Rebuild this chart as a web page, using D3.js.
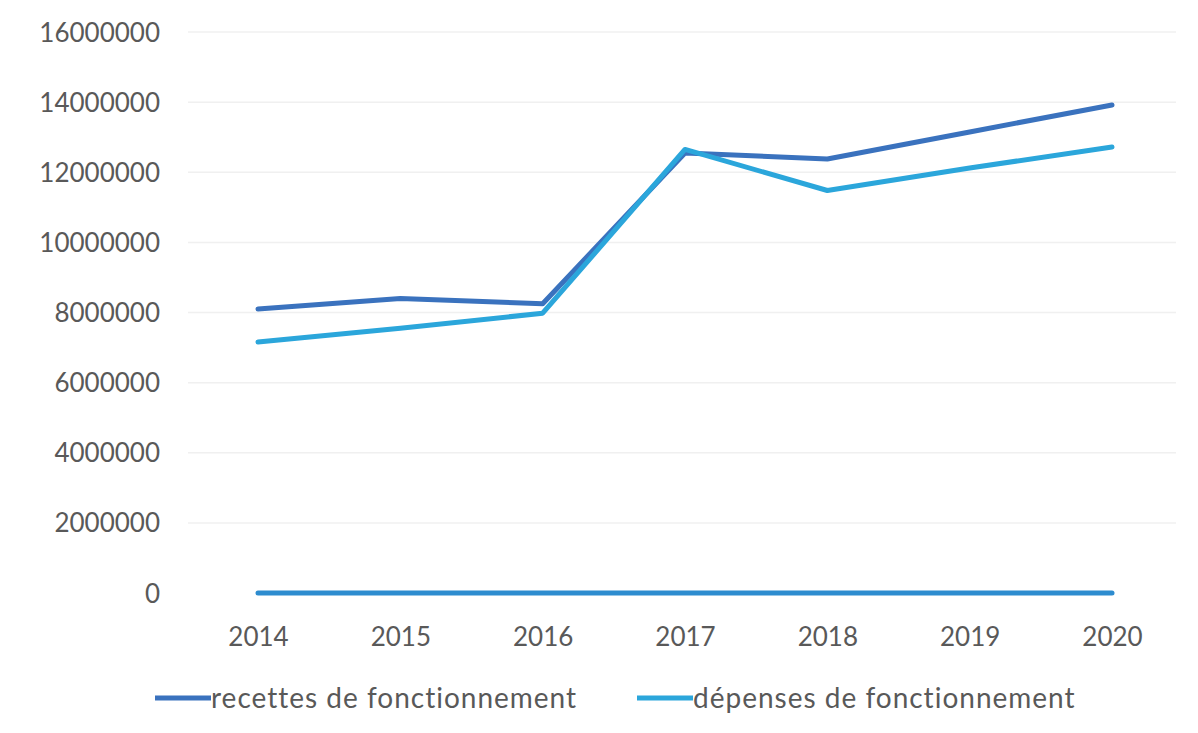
<!DOCTYPE html>
<html><head><meta charset="utf-8">
<script src="https://cdn.jsdelivr.net/npm/d3@7"></script>
<style>body{margin:0;background:#fff}svg text{font-family:Lato,"Open Sans",sans-serif;fill:#595959}</style>
</head><body><svg id="c" width="1198" height="733"></svg>
<script>
const years = ["2014","2015","2016","2017","2018","2019","2020"];
const recettes = [8100000, 8400000, 8250000, 12550000, 12380000, 13150000, 13920000];
const depenses = [7160000, 7550000, 7980000, 12650000, 11480000, 12120000, 12720000];
const zeroSeries = [0, 0, 0, 0, 0, 0, 0];
const yTicks = [0, 2000000, 4000000, 6000000, 8000000, 10000000, 12000000, 14000000, 16000000];
const seriesNames = ["recettes de fonctionnement", "dépenses de fonctionnement"];

const svg = d3.select("#c");
const x = d3.scalePoint().domain(years).range([258, 1112]);
const y = d3.scaleLinear().domain([0, 16000000]).range([593, 32]);

// gridlines
svg.append("g").selectAll("line").data(yTicks.slice(1)).join("line")
  .attr("x1", 188).attr("x2", 1176)
  .attr("y1", d => y(d)).attr("y2", d => y(d))
  .attr("stroke", "#f0f0f0").attr("stroke-width", 1.5);

// y axis labels
const ya = svg.append("g").attr("transform", "translate(160,0)")
  .call(d3.axisLeft(y).tickValues(yTicks).tickSize(0).tickPadding(0).tickFormat(d3.format("d")));
ya.select(".domain").remove();
ya.selectAll("text").attr("font-size", 26).attr("dy", "0.35em").style("fill", "#595959");

// x axis labels
const xa = svg.append("g").attr("transform", "translate(0,637)")
  .call(d3.axisBottom(x).tickSize(0).tickPadding(0));
xa.select(".domain").remove();
xa.selectAll("text").attr("font-size", 26).attr("dy", "0.35em").attr("y", 0).style("fill", "#595959");

const line = d3.line().x((d, i) => x(years[i])).y(d => y(d));

svg.append("path").datum(zeroSeries).attr("d", line)
  .attr("fill", "none").attr("stroke", "#2d8ccf").attr("stroke-width", 5).attr("stroke-linecap", "round");
svg.append("path").datum(recettes).attr("d", line)
  .attr("fill", "none").attr("stroke", "#3a72be").attr("stroke-width", 5).attr("stroke-linejoin", "round").attr("stroke-linecap", "round");
svg.append("path").datum(depenses).attr("d", line)
  .attr("fill", "none").attr("stroke", "#2ba6db").attr("stroke-width", 5).attr("stroke-linejoin", "round").attr("stroke-linecap", "round");

// legend
const leg = [{name: seriesNames[0], color: "#3a72be", x: 155}, {name: seriesNames[1], color: "#2ba6db", x: 637}];
const lg = svg.append("g").selectAll("g").data(leg).join("g")
  .attr("transform", d => `translate(${d.x},698)`);
lg.append("line").attr("x1", 0).attr("x2", 56).attr("stroke", d => d.color).attr("stroke-width", 5);
lg.append("text").attr("x", 56).attr("dy", "0.35em").attr("font-size", 28).attr("letter-spacing", 1).text(d => d.name);
</script></body></html>
